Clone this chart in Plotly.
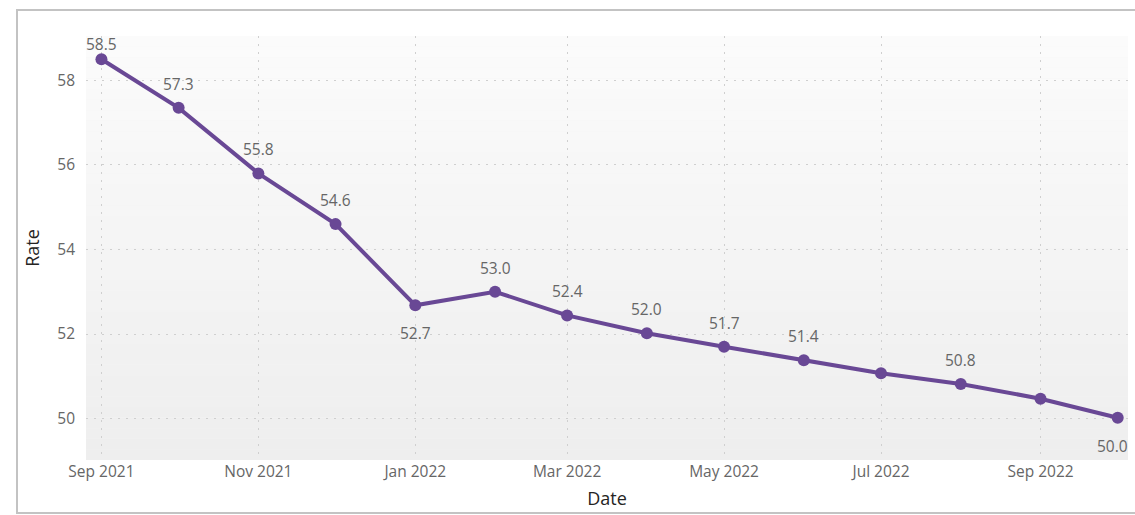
import plotly.graph_objects as go

dates = ["2021-09-01", "2021-10-01", "2021-11-01", "2021-12-01", "2022-01-01", "2022-02-01",
         "2022-03-01", "2022-04-01", "2022-05-01", "2022-06-01", "2022-07-01", "2022-08-01",
         "2022-09-01", "2022-10-01"]
rates = [58.5, 57.35, 55.8, 54.6, 52.68, 53.0, 52.44, 52.02, 51.7, 51.38, 51.07, 50.82, 50.47, 50.02]
labels = ["58.5", "57.3", "55.8", "54.6", "52.7", "53.0", "52.4", "52.0", "51.7", "51.4", "", "50.8", "", "50.0"]
label_side = ["above"] * 4 + ["below"] + ["above"] * 8 + ["below"]

W, H = 1135, 515
L, R, T, B = 86, 1128, 36, 460
pw, ph = R - L, B - T

font = "Segoe UI, Open Sans, sans-serif"
purple = "#694895"

fig = go.Figure()
fig.add_trace(go.Scatter(
    x=dates, y=rates, mode="lines+markers",
    line=dict(color=purple, width=4),
    marker=dict(color=purple, size=12),
    hoverinfo="x+y", cliponaxis=False,
))

# data labels as annotations anchored at data points
annotations = []
for i, (d, v, t, s) in enumerate(zip(dates, rates, labels, label_side)):
    if not t:
        continue
    ys = 24 if s == "above" else -28
    if i == 0:
        ys = 15
    xs = -5 if i == len(dates) - 1 else 0
    annotations.append(dict(x=d, y=v, xref="x", yref="y", text=t, showarrow=False,
                            yshift=ys, xshift=xs,
                            font=dict(family=font, size=15.5, color="#666666")))

# gradient background bands for the plot area
shapes = []
n = 40
c_top, c_bot = (251, 251, 251), (238, 238, 238)
for i in range(n):
    f = i / (n - 1)
    c = tuple(round(c_top[k] + (c_bot[k] - c_top[k]) * f) for k in range(3))
    shapes.append(dict(type="rect", xref="x domain", yref="y domain",
                       x0=0, x1=1, y0=1 - (i + 1) / n, y1=1 - i / n,
                       fillcolor="rgb(%d,%d,%d)" % c, line=dict(width=0), layer="below"))
# outer border
shapes.append(dict(type="rect", xref="paper", yref="paper",
                   x0=(17 - L) / pw, x1=(1145 - L) / pw,
                   y0=(B - 513) / ph, y1=(B - 10) / ph,
                   line=dict(color="#c3c3c3", width=2), fillcolor="rgba(0,0,0,0)", layer="above"))

fig.update_layout(
    width=W, height=H,
    margin=dict(l=L, r=W - R, t=T, b=H - B),
    paper_bgcolor="white", plot_bgcolor="#f4f4f4",
    showlegend=False, shapes=shapes, annotations=annotations,
    font=dict(family=font, color="#666666"),
)
fig.update_xaxes(
    type="date", range=["2021-08-26", "2022-10-05"],
    tick0="2021-09-01", dtick="M2", tickformat="%b %Y",
    showgrid=True, gridcolor="#cfcfcf", griddash="2px,6px", gridwidth=1,
    zeroline=False, showline=False, ticks="",
    tickfont=dict(family=font, size=15.5, color="#666666"),
    title=dict(text="Date", font=dict(family=font, size=18, color="#252423"), standoff=11),
)
fig.update_yaxes(
    range=[49.02, 59.05], tick0=50, dtick=2,
    showgrid=True, gridcolor="#cfcfcf", griddash="2px,6px", gridwidth=1,
    zeroline=False, showline=False, ticks="", ticklabelstandoff=10,
    tickfont=dict(family=font, size=15.5, color="#666666"),
    title=dict(text="Rate", font=dict(family=font, size=18, color="#252423"), standoff=12),
)

fig.write_html("out.html")
